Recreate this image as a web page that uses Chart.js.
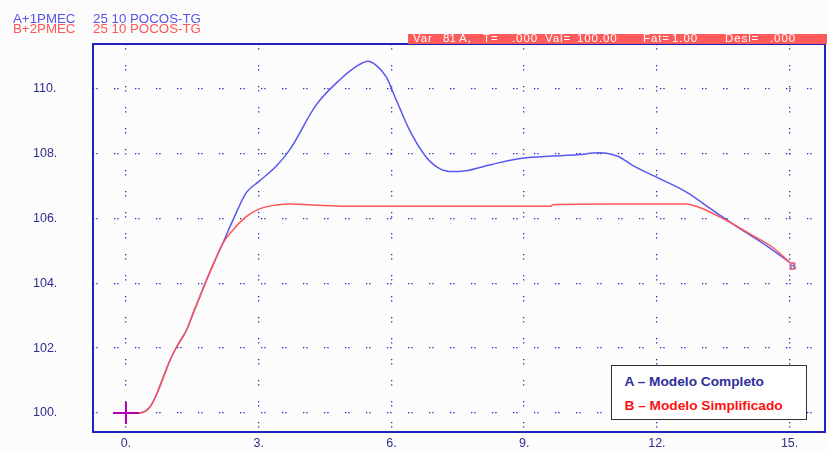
<!DOCTYPE html>
<html>
<head>
<meta charset="utf-8">
<script src="https://cdn.jsdelivr.net/npm/chart.js@4/dist/chart.umd.min.js"></script>
<style>
  html, body { margin: 0; padding: 0; background: #fcfcfc; }
  #wrap { position: relative; width: 827px; height: 452px; font-family: Arial, "Liberation Sans", sans-serif; }
  #chart { position: absolute; left: 0; top: 0; }
  .hdr { position: absolute; font-size: 13.3px; line-height: 13px; white-space: pre; }
  .hdr.a { color: #5555ee; top: 12px; }
  .hdr.b { color: #ff5555; top: 22px; }
  #banner {
    position: absolute; left: 408px; top: 34px; width: 419px; height: 10px;
    background: #ff5a5a; overflow: visible;
  }
  #banner span {
    position: absolute; top: -2px; color: #fff; font-size: 11.5px; line-height: 12px;
    letter-spacing: 0.9px; white-space: nowrap;
  }
  #legendBox {
    position: absolute; left: 611px; top: 365px; width: 196px; height: 55px; box-sizing: border-box;
    border: 1.5px solid #333; background: #fff; font-weight: bold; font-size: 13.7px; line-height: 14px;
  }
  #legendBox div { position: absolute; left: 12.5px; white-space: nowrap; }
</style>
</head>
<body>
<div id="wrap">
  <canvas id="chart" width="827" height="452"></canvas>
  <div class="hdr a" style="left:13px">A+1PMEC</div>
  <div class="hdr a" style="left:93px">25 10 POCOS-TG</div>
  <div class="hdr b" style="left:13px">B+2PMEC</div>
  <div class="hdr b" style="left:93px">25 10 POCOS-TG</div>
  <div id="banner">
    <span style="left:5px">Var</span>
    <span style="left:35px;letter-spacing:0">81</span>
    <span style="left:51px">A,</span>
    <span style="left:75px">T=</span>
    <span style="left:104px">.000</span>
    <span style="left:137px">Val=</span>
    <span style="left:169px">100.00</span>
    <span style="left:235px">Fat=</span>
    <span style="left:264px">1.00</span>
    <span style="left:317px">Desl=</span>
    <span style="left:362px">.000</span>
  </div>
  <div id="legendBox">
    <div style="top:8.5px;color:#2e2e9a">A – Modelo Completo</div>
    <div style="top:32.5px;color:#ff1010">B – Modelo Simplificado</div>
  </div>
</div>
<script>
// ── Series data ──
const tA = [0, 0.3, 0.55, 0.7, 0.85, 1.0, 1.15, 1.37, 1.52, 1.67, 1.82, 2.0, 2.19, 2.42, 2.72, 3.0,
            3.4, 3.7, 4.3, 4.83, 5.2, 5.47, 5.65, 5.88, 6.11, 6.41, 6.78, 7.08, 7.38, 7.69, 8.29,
            8.96, 9.64, 10.2, 10.69, 11.14, 11.44, 12.05, 12.65, 13.25, 13.85, 14.45, 15.0];
const yA = [100, 100.0, 100.2, 100.6, 101.12, 101.64, 102.05, 102.56, 103.08, 103.59, 104.1, 104.67, 105.24, 105.96, 106.8, 107.14,
            107.62, 108.12, 109.51, 110.28, 110.69, 110.86, 110.74, 110.38, 109.66, 108.73, 107.91, 107.55, 107.45, 107.48, 107.68,
            107.86, 107.93, 107.97, 108.03, 107.91, 107.65, 107.24, 106.83, 106.27, 105.71, 105.19, 104.65];

const tB = [0, 0.3, 0.55, 0.7, 0.85, 1.0, 1.15, 1.37, 1.52, 1.67, 1.82, 2.0, 2.19, 2.42, 2.72, 3.02,
            3.4, 3.7, 4.22, 5.12, 7.0, 9.6, 9.65, 11.0, 12.65, 12.95, 13.55, 14.15, 14.6, 15.0];
const yB = [100, 100, 100.2, 100.6, 101.12, 101.64, 102.05, 102.56, 103.08, 103.59, 104.1, 104.67, 105.24, 105.65, 106.06, 106.3,
            106.42, 106.45, 106.42, 106.38, 106.38, 106.38, 106.43, 106.45, 106.45, 106.35, 105.96, 105.49, 105.13, 104.65];

const xTicks = [0, 3, 6, 9, 12, 15];
const yTicks = [100, 102, 104, 106, 108, 110];

const pts = (xs, ys) => xs.map((x, i) => ({ x: x, y: ys[i] }));

const AXIS_BLUE = '#2222bb';
const LABEL_BLUE = '#2e2e8e';

// plot frame, start cross and the A/B end marker
const framePlugin = {
  id: 'frame',
  afterDatasetsDraw(chart) {
    const { ctx, chartArea: a, scales } = chart;
    ctx.save();
    ctx.strokeStyle = AXIS_BLUE;
    ctx.lineWidth = 2;
    ctx.strokeRect(a.left, a.top, a.right - a.left, a.bottom - a.top);

    // start marker
    const sx = scales.x.getPixelForValue(tA[0]);
    const sy = scales.y.getPixelForValue(yA[0]);
    ctx.strokeStyle = '#b000b0';
    ctx.lineWidth = 2;
    ctx.beginPath();
    ctx.moveTo(sx - 13, sy); ctx.lineTo(sx + 13, sy);
    ctx.moveTo(sx, sy - 11); ctx.lineTo(sx, sy + 11);
    ctx.stroke();

    // end marker
    const px = scales.x.getPixelForValue(tA[tA.length - 1]);
    const py = scales.y.getPixelForValue(yA[yA.length - 1]);
    ctx.font = 'bold 11px Arial';
    ctx.textAlign = 'center';
    ctx.textBaseline = 'middle';
    ctx.fillStyle = '#ff6a6a';
    ctx.fillText('B', px + 3, py + 5);
    ctx.fillStyle = 'rgba(90,90,240,0.75)';
    ctx.font = 'bold 10px Arial';
    ctx.fillText('a', px + 3, py + 4);
    ctx.restore();
  }
};

new Chart(document.getElementById('chart'), {
  type: 'line',
  data: {
    datasets: [
      { label: 'B – Modelo Simplificado', data: pts(tB, yB), borderColor: '#ff5555',
        borderWidth: 1.5, pointRadius: 0, cubicInterpolationMode: 'monotone', order: 1 },
      { label: 'A – Modelo Completo', data: pts(tA, yA), borderColor: '#5858f0',
        borderWidth: 1.5, pointRadius: 0, cubicInterpolationMode: 'monotone', order: 2 }
    ]
  },
  options: {
    responsive: false,
    animation: false,
    layout: { padding: { top: 44, right: 2, left: 33, bottom: 0 } },
    plugins: { legend: { display: false }, tooltip: { enabled: false } },
    scales: {
      x: {
        type: 'linear', min: -0.745, max: 15.8,
        afterBuildTicks: s => { s.ticks = xTicks.map(v => ({ value: v })); },
        afterFit: s => { s.height = 20; },
        ticks: { color: LABEL_BLUE, font: { family: 'Arial', size: 12.5 }, padding: 4,
                 callback: v => v + '.' },
        grid: { color: AXIS_BLUE, lineWidth: 1.3, drawTicks: false },
        border: { display: false, dash: [1.3, 3, 1.3, 15.4] }
      },
      y: {
        type: 'linear', min: 99.41, max: 111.39,
        afterBuildTicks: s => { s.ticks = yTicks.map(v => ({ value: v })); },
        afterFit: s => { s.width = 60; },
        ticks: { color: LABEL_BLUE, font: { family: 'Arial', size: 12.5 }, padding: 0,
                 crossAlign: 'far', callback: v => v + '.' },
        grid: { color: AXIS_BLUE, lineWidth: 1.3, drawTicks: false },
        border: { display: false, dash: [1.3, 2, 1.3, 16.4] }
      }
    }
  },
  plugins: [framePlugin]
});
</script>
</body>
</html>
